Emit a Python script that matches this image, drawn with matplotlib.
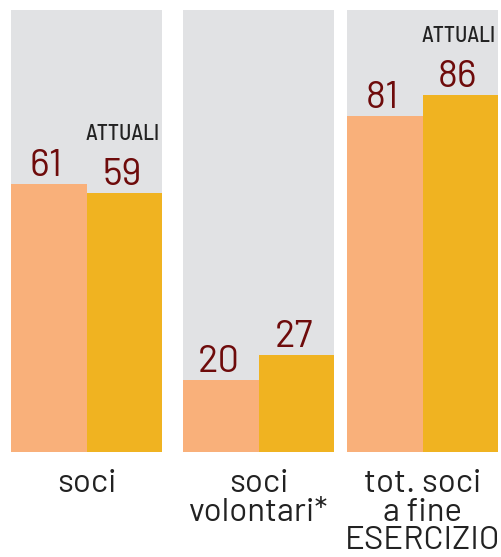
import matplotlib
matplotlib.use("Agg")
import matplotlib.pyplot as plt

# dati
categorie = ["soci", "soci\nvolontari*", "tot. soci\na fine\nESERCIZIO"]
precedenti = [61, 20, 81]
attuali = [59, 27, 86]
etichetta_attuali = [True, False, True]
ymax = [100.5, 123, 106.4]

col_prec = "#F9B07A"
col_att = "#F0B321"
col_fondo = "#E1E2E4"
col_num = "#6E0B0B"
col_testo = "#222222"
font = ["Barlow", "DejaVu Sans"]
font_att = ["Barlow Semi Condensed", "DejaVu Sans"]

W, H = 501, 557
fig = plt.figure(figsize=(W / 72, H / 72), dpi=72)

lefts = [11, 183, 347]
for i in range(3):
    ax = fig.add_axes([lefts[i] / W, 105 / H, 151 / W, 442 / H])
    ax.set_facecolor(col_fondo)
    ax.bar([0, 1], [precedenti[i], attuali[i]], width=1.0,
           color=[col_prec, col_att], linewidth=0)
    ax.set_xlim(-0.5, 1.5)
    ax.set_ylim(0, ymax[i])
    for s in ax.spines.values():
        s.set_visible(False)
    ax.set_xticks([])
    ax.set_yticks([])

    for x, v in zip([0, 1], [precedenti[i], attuali[i]]):
        ax.annotate(str(v), (x - 0.03, v), xytext=(0, 8), textcoords="offset points",
                    ha="center", va="baseline", fontsize=38, color=col_num,
                    family=font)
    if etichetta_attuali[i]:
        ax.annotate("ATTUALI", (0.98, attuali[i]), xytext=(0, 53),
                    textcoords="offset points", ha="center", va="baseline",
                    fontsize=22, color=col_testo, family=font_att,
                    weight="medium")

    ax.annotate(categorie[i], (0.5, 0), xycoords="axes fraction",
                xytext=(0, -17), textcoords="offset points", ha="center",
                va="top", fontsize=33, color=col_testo, family=font,
                linespacing=0.94)

fig.savefig("out.png", dpi=72)
